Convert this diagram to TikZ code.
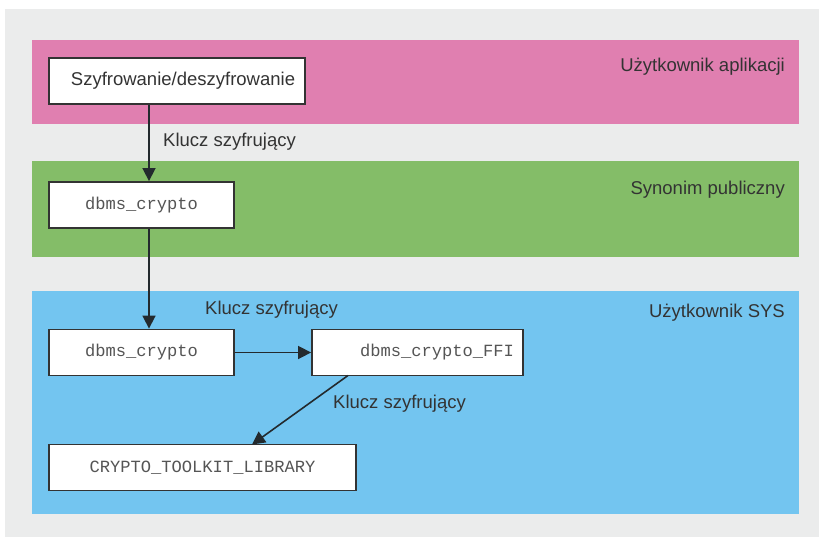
\documentclass[tikz,border=0pt]{standalone}
\usepackage{fontspec}
\setmainfont{Liberation Sans}
\newfontfamily\codefont{Liberation Mono}
\usetikzlibrary{arrows.meta}
\definecolor{bggray}{RGB}{235,236,236}
\definecolor{lanepink}{RGB}{224,127,176}
\definecolor{lanegreen}{RGB}{132,189,104}
\definecolor{laneblue}{RGB}{115,197,240}
\definecolor{textdark}{RGB}{51,51,51}
\definecolor{codegray}{RGB}{85,85,85}
\definecolor{linedark}{RGB}{35,42,46}
\tikzset{
  lanelabel/.style={anchor=east, inner sep=0pt, text=textdark, font=\fontsize{18.5}{22}\selectfont},
  box/.style={draw=textdark, line width=1.8pt, fill=white, inner sep=0pt, minimum height=46pt},
  code/.style={font=\codefont\fontsize{17.1}{20}\selectfont, text=codegray},
  txt/.style={font=\fontsize{18.5}{22}\selectfont, text=textdark},
  flow/.style={draw=linedark, line width=1.6pt, -{Triangle[length=13pt,width=13pt]}},
  keylabel/.style={inner sep=0pt, text=textdark, font=\fontsize{18.5}{22}\selectfont, anchor=west}
}
\begin{document}
\begin{tikzpicture}[x=1pt, y=-1pt]
  \useasboundingbox (0,0) rectangle (819,537);
  % page and outer panel
  \fill[white] (0,0) rectangle (819,537);
  \fill[bggray] (5,9) rectangle (819,537);
  % lanes
  \fill[lanepink]  (32,40)  rectangle (799,124);
  \fill[lanegreen] (32,161) rectangle (799,257);
  \fill[laneblue]  (32,291) rectangle (799,514);
  \node[lanelabel] (lane1) at (785,67)  {Użytkownik aplikacji};
  \node[lanelabel] (lane2) at (785,190) {Synonim publiczny};
  \node[lanelabel] (lane3) at (785,313) {Użytkownik SYS};
  % components
  \node[box, txt, minimum width=256pt] (app) at (177,81) {\hspace{12pt}Szyfrowanie/deszyfrowanie};
  \node[box, code, minimum width=185pt] (syn) at (141.5,205) {dbms\_crypto};
  \node[box, code, minimum width=185pt] (pkg) at (141.5,352.5) {dbms\_crypto};
  \node[box, code, minimum width=211pt, text width=193pt, align=right] (ffi) at (417.5,352.5) {dbms\_crypto\_FFI};
  \node[box, code, minimum width=307pt] (lib) at (202.5,467.5) {CRYPTO\_TOOLKIT\_LIBRARY};
  % connectors
  \draw[flow] (app.south -| 149,0) -- (syn.north -| 149,0);
  \draw[flow] (syn.south -| 149,0) -- (pkg.north -| 149,0);
  \draw[flow] (pkg.east) -- (ffi.west);
  \coordinate (ffiout) at (348,375.5);
  \coordinate (libin) at (252,444.5);
  \draw[flow] (ffiout) -- (libin);
  % labels on connectors
  \node[keylabel] (k1) at (163,142) {Klucz szyfrujący};
  \node[keylabel] (k2) at (205,310) {Klucz szyfrujący};
  \node[keylabel] (k3) at (333,404) {Klucz szyfrujący};
\end{tikzpicture}
\end{document}
